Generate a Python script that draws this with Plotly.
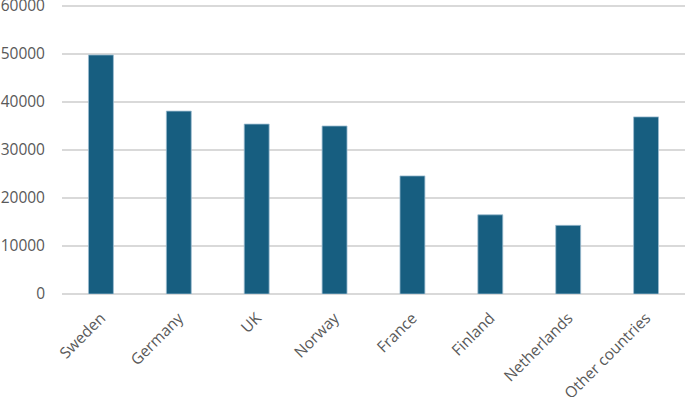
import plotly.graph_objects as go

countries = ["Sweden", "Germany", "UK", "Norway", "France", "Finland", "Netherlands", "Other countries"]
values = [49800, 38100, 35400, 35000, 24600, 16500, 14300, 36900]
y_ticks = [0, 10000, 20000, 30000, 40000, 50000, 60000]

fig = go.Figure(go.Bar(
    x=countries, y=values,
    marker=dict(color="#175e80", line=dict(color="#9dbdd0", width=0.8)),
    hoverinfo="skip",
))
fig.update_layout(
    width=685, height=397,
    margin=dict(l=62, r=0, t=4, b=103),
    paper_bgcolor="white", plot_bgcolor="white",
    bargap=0.68,
    showlegend=False,
    font=dict(family="Open Sans", size=15.5, color="#595959"),
)
fig.update_yaxes(
    range=[0, 60417], tickvals=y_ticks, tickformat="d",
    showgrid=True, gridcolor="#d9d9d9", gridwidth=1.8,
    zeroline=True, zerolinecolor="#d9d9d9", zerolinewidth=1.8,
    showline=False, ticks="", ticklabelstandoff=16, automargin=False,
    ticklabeloverflow="allow",
)
fig.update_xaxes(
    tickangle=-45, showgrid=False, showline=False, ticks="", automargin=False,
    ticklabelstandoff=11, ticklabeloverflow="allow",
)
fig.write_html(
    "out.html",
    config={"displayModeBar": False},
    post_script="document.body.style.margin='0';document.body.style.overflow='hidden';",
)
